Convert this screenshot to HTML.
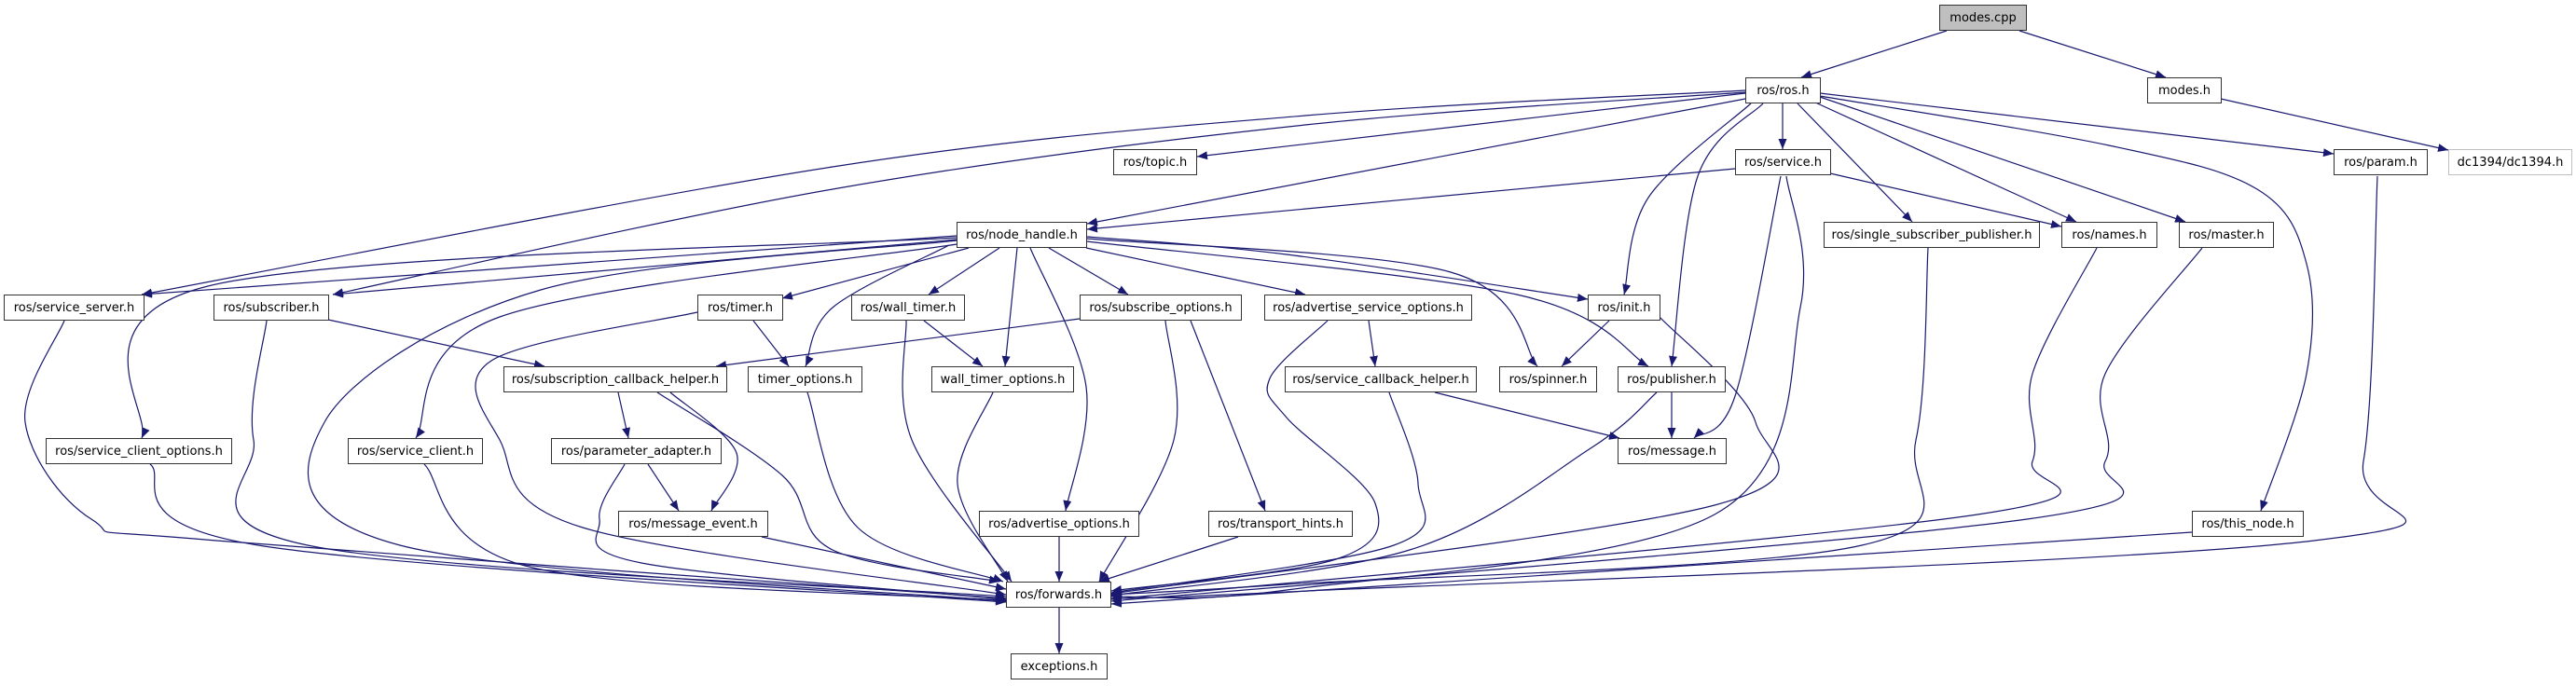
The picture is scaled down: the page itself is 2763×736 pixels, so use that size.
<!DOCTYPE html>
<html><head><meta charset="utf-8">
<style>
html,body{margin:0;padding:0;background:#fff;}
#c{position:relative;width:2763px;height:736px;overflow:hidden;background:#fff;}
.n{position:absolute;box-sizing:border-box;border:1px solid #333;background:#fff;height:28px;font:13px "DejaVu Sans","Liberation Sans",sans-serif;color:#000;display:flex;align-items:center;justify-content:center;white-space:nowrap;}
svg{position:absolute;left:0;top:0;}
</style></head><body><div id="c">
<svg id="s" width="2763" height="736" viewBox="0 0 2763 736">
<defs><marker id="a" markerUnits="userSpaceOnUse" markerWidth="12" markerHeight="9" refX="11" refY="4.5" orient="auto"><path d="M0,0 L11,4.5 L0,9 z" fill="#191970"/></marker></defs>
<g id="g" fill="none" stroke="#191970" stroke-width="1.2" marker-end="url(#a)"></g>
</svg>
<div class="n" style="left:2080px;top:5px;width:94px;background:#bfbfbf;">modes.cpp</div>
<div class="n" style="left:1872px;top:83px;width:81px;">ros/ros.h</div>
<div class="n" style="left:2303px;top:83px;width:80px;">modes.h</div>
<div class="n" style="left:1194px;top:160px;width:90px;">ros/topic.h</div>
<div class="n" style="left:1861px;top:160px;width:103px;">ros/service.h</div>
<div class="n" style="left:2503px;top:160px;width:101px;">ros/param.h</div>
<div class="n" style="left:2626px;top:160px;width:133px;border-color:#bfbfbf;">dc1394/dc1394.h</div>
<div class="n" style="left:1026px;top:238px;width:140px;">ros/node_handle.h</div>
<div class="n" style="left:1956px;top:238px;width:232px;">ros/single_subscriber_publisher.h</div>
<div class="n" style="left:2211px;top:238px;width:103px;">ros/names.h</div>
<div class="n" style="left:2337px;top:238px;width:102px;">ros/master.h</div>
<div class="n" style="left:4px;top:316px;width:151px;">ros/service_server.h</div>
<div class="n" style="left:229px;top:316px;width:124px;">ros/subscriber.h</div>
<div class="n" style="left:748px;top:316px;width:92px;">ros/timer.h</div>
<div class="n" style="left:913px;top:316px;width:122px;">ros/wall_timer.h</div>
<div class="n" style="left:1158px;top:316px;width:174px;">ros/subscribe_options.h</div>
<div class="n" style="left:1356px;top:316px;width:223px;">ros/advertise_service_options.h</div>
<div class="n" style="left:1703px;top:316px;width:78px;">ros/init.h</div>
<div class="n" style="left:540px;top:393px;width:240px;">ros/subscription_callback_helper.h</div>
<div class="n" style="left:802px;top:393px;width:123px;">timer_options.h</div>
<div class="n" style="left:999px;top:393px;width:153px;">wall_timer_options.h</div>
<div class="n" style="left:1378px;top:393px;width:206px;">ros/service_callback_helper.h</div>
<div class="n" style="left:1608px;top:393px;width:105px;">ros/spinner.h</div>
<div class="n" style="left:1735px;top:393px;width:116px;">ros/publisher.h</div>
<div class="n" style="left:49px;top:470px;width:200px;">ros/service_client_options.h</div>
<div class="n" style="left:373px;top:470px;width:145px;">ros/service_client.h</div>
<div class="n" style="left:591px;top:470px;width:183px;">ros/parameter_adapter.h</div>
<div class="n" style="left:1735px;top:470px;width:117px;">ros/message.h</div>
<div class="n" style="left:663px;top:548px;width:161px;">ros/message_event.h</div>
<div class="n" style="left:1050px;top:548px;width:172px;">ros/advertise_options.h</div>
<div class="n" style="left:1296px;top:548px;width:155px;">ros/transport_hints.h</div>
<div class="n" style="left:2351px;top:548px;width:120px;">ros/this_node.h</div>
<div class="n" style="left:1079px;top:624px;width:113px;">ros/forwards.h</div>
<div class="n" style="left:1084px;top:701px;width:104px;">exceptions.h</div>
</div>
<script>
var E=[
[[2088,33],[1932,83]],
[[2166,33],[2323,83]],
[[2382,106],[2626,161]],
[[1872,100],[1284,168]],
[[1872,106],[1166,240]],
[[1861,181],[1166,246]],
[[1872,97],[1400,124],[893,179],[152,316]],
[[1872,99],[1400,134],[893,203],[357,316]],
[[1912,111],[1912,160]],
[[1928,111],[2051,238]],
[[1945,109],[2227,238]],
[[1952,104],[2344,238]],
[[1952,100],[2503,165]],
[[1952,103],[2262,156],[2421,203],[2474,283],[2474,401],[2425,548]],
[[1878,111],[1768,212],[1742,316]],
[[1891,111],[1821,189],[1793,393]],
[[1963,186],[2211,243]],
[[1910,189],[1861,425],[1817,470]],
[[1916,189],[1931,330],[1839,552],[1380,633],[1192,640]],
[[2068,266],[2055,472],[1997,585],[1380,627],[1192,638]],
[[2249,266],[2180,401],[2180,495],[2121,552],[1192,643]],
[[2362,266],[2258,401],[2258,495],[2174,557],[1192,645]],
[[2351,571],[1192,648]],
[[2550,189],[2535,495],[2482,580],[1380,635],[1192,642]],
[[1026,253],[152,316]],
[[1026,257],[357,316]],
[[1026,255],[223,307],[152,470]],
[[1026,258],[580,311],[348,453],[429,585],[1079,645]],
[[1026,262],[536,340],[446,470]],
[[1039,266],[839,320]],
[[1072,266],[996,316]],
[[1091,266],[1078,393]],
[[1018,263],[893,330],[864,393]],
[[1105,266],[1165,415],[1143,548]],
[[1125,266],[1210,316]],
[[1165,266],[1400,316]],
[[1166,254],[1380,273],[1703,321]],
[[1166,256],[1556,292],[1649,393]],
[[1166,259],[1627,316],[1768,393]],
[[352,343],[584,393]],
[[286,344],[272,472],[330,585],[1079,640]],
[[69,344],[27,453],[98,557],[232,580],[1079,642]],
[[808,344],[846,393]],
[[748,335],[527,387],[536,472],[625,566],[1079,638]],
[[991,344],[1054,393]],
[[972,344],[978,472],[1085,624]],
[[1158,342],[768,393]],
[[1250,344],[1259,472],[1179,624]],
[[1277,344],[1357,548]],
[[1468,344],[1475,393]],
[[1424,344],[1362,406],[1380,448],[1475,540],[1433,600],[1192,634]],
[[1539,421],[1737,470]],
[[1490,421],[1521,519],[1495,585],[1192,636]],
[[1726,344],[1675,393]],
[[1780,340],[1883,453],[1839,542],[1192,637]],
[[1793,421],[1793,470]],
[[1777,421],[1706,481],[1512,590],[1192,639]],
[[663,421],[674,470]],
[[719,421],[790,486],[763,548]],
[[705,421],[839,510],[893,590],[1072,624]],
[[695,498],[728,548]],
[[670,498],[643,557],[688,604],[1079,643]],
[[817,576],[1079,632]],
[[455,498],[571,609],[1079,644]],
[[161,498],[277,585],[1079,646]],
[[866,421],[920,566],[1076,624]],
[[1065,421],[1027,519],[1081,624]],
[[1136,576],[1136,624]],
[[1328,576],[1179,624]],
[[1136,652],[1136,701]]
];
function path(p){
 if(p.length==2)return "M"+p[0]+" L"+p[1];
 var d="M"+p[0][0]+","+p[0][1];
 for(var i=0;i<p.length-1;i++){
  var p0=p[i-1]||p[i],p1=p[i],p2=p[i+1],p3=p[i+2]||p2;
  var c1=[p1[0]+(p2[0]-p0[0])/6,p1[1]+(p2[1]-p0[1])/6];
  var c2=[p2[0]-(p3[0]-p1[0])/6,p2[1]-(p3[1]-p1[1])/6];
  d+=" C"+c1+" "+c2+" "+p2;
 }
 return d;
}
var g=document.getElementById("g"),h="";
E.forEach(function(p){h+='<path d="'+path(p)+'"/>';});
g.innerHTML=h;
</script>
</body></html>
